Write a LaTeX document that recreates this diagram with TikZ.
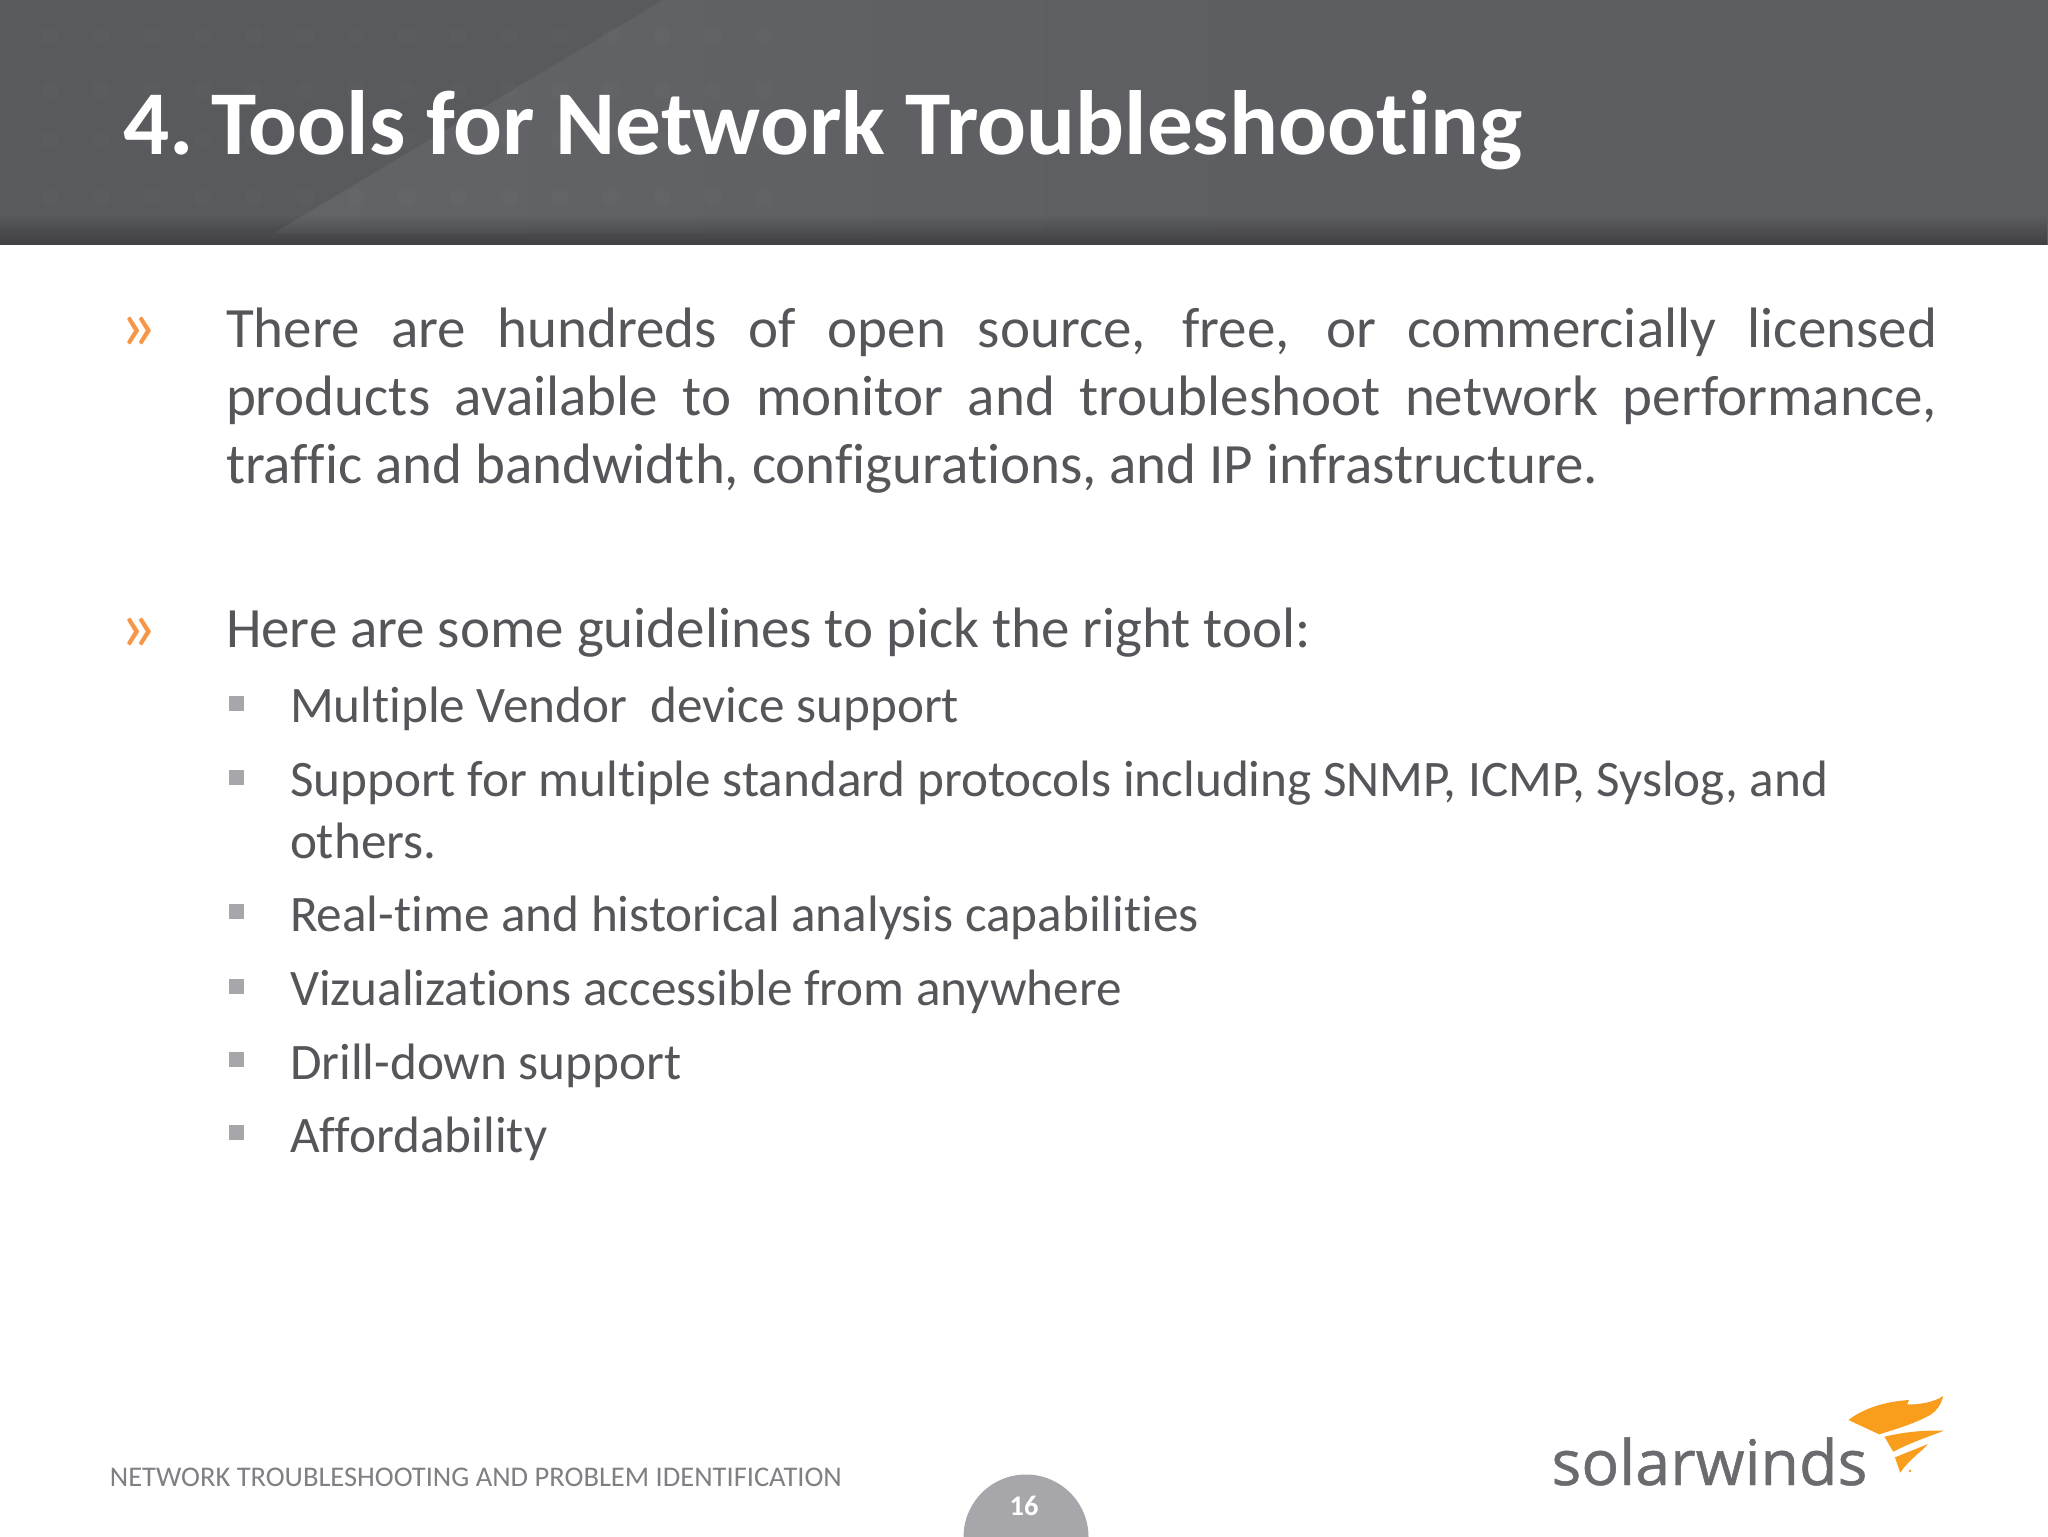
\documentclass[tikz,border=0pt]{standalone}
\usepackage{fontspec}
\setmainfont[Ligatures=NoCommon]{Carlito}
\newfontfamily\logofont[FakeBold=0.7]{Open Sans}
\usetikzlibrary{fadings}
\definecolor{hdr}{HTML}{5D5E62}
\definecolor{hdrdark}{HTML}{595A5D}
\definecolor{hdrlight}{HTML}{636468}
\definecolor{bodytext}{HTML}{55565A}
\definecolor{orangeb}{HTML}{F79646}
\definecolor{greyb}{HTML}{A7A7AB}
\definecolor{foot}{HTML}{7F8084}
\definecolor{flame}{HTML}{F99D1C}
\definecolor{logotext}{HTML}{6A6B6F}
\tikzset{
  x=0.5pt,y=-0.5pt,
  txt/.style={anchor=base west,inner sep=0pt,outer sep=0pt,text=bodytext},
  lvlone/.style={txt,font=\fontsize{28.5pt}{34pt}\selectfont},
  lvltwo/.style={txt,font=\fontsize{25.6pt}{30pt}\selectfont},
  chev/.style={anchor=base west,inner sep=0pt,text=orangeb,font=\fontsize{37pt}{40pt}\selectfont},
  sq/.style={fill=greyb,draw=none,minimum size=7.5pt,inner sep=0pt,outer sep=0pt,anchor=center,shape=rectangle},
  flamepart/.style={fill=flame,draw=none}
}
\begin{document}
\begin{tikzpicture}
\useasboundingbox (0,0) rectangle (2048,1536);
\fill[white] (0,0) rectangle (2048,1536);
% header
\fill[hdr] (0,0) rectangle (2048,245);
\fill[hdrdark] (0,0) -- (663,0) -- (274,233) -- (0,233) -- cycle;
\shade[left color=hdrlight,right color=hdr] (663,0) -- (1300,0) -- (1300,233) -- (274,233) -- cycle;
\foreach \yy in {36,90,140,197}{
  \foreach \xx in {50,101,...,800}{
    \fill[white,opacity=0.015] (\xx,\yy) circle (9);
  }
}
\fill[black,opacity=0.32,path fading=north] (0,215) rectangle (2048,245);
\node[anchor=base west,inner sep=0pt,text=white,font=\fontsize{45.6pt}{54pt}\selectfont\bfseries] (title) at (123,155) {4.\kern-5pt{} Tools for Network Troubleshooting};
% first bullet
\node[chev] (c1) at (119,349) {»};
\node[lvlone] (l1) at (226,347) {\makebox[855.5pt][s]{There are hundreds of open source, free, or commercially licensed}};
\node[lvlone] (l2) at (226,415) {\makebox[855.5pt][s]{products available to monitor and troubleshoot network performance,}};
\node[lvlone] (l3) at (226,483) {traffic and bandwidth, configurations, and IP infrastructure.};
% second bullet
\node[chev] (c2) at (119,650) {»};
\node[lvlone] (l4) at (226,647) {Here are some guidelines to pick the right tool:};
% sub bullets
\node[sq] (s1) at (236.5,703.5) {};
\node[lvltwo] (t1) at (290,722) {Multiple Vendor\ \ device support};
\node[sq] (s2) at (236.5,777.5) {};
\node[lvltwo] (t2) at (290,796) {Support for multiple standard protocols including SNMP, ICMP, Syslog, and};
\node[lvltwo] (t2b) at (290,858) {others.};
\node[sq] (s3) at (236.5,911) {};
\node[lvltwo] (t3) at (290,931) {Real-time and historical analysis capabilities};
\node[sq] (s4) at (236.5,986) {};
\node[lvltwo] (t4) at (290,1005) {Vizualizations accessible from anywhere};
\node[sq] (s5) at (236.5,1059) {};
\node[lvltwo] (t5) at (290,1079) {Drill-down support};
\node[sq] (s6) at (236.5,1132) {};
\node[lvltwo] (t6) at (290,1152) {Affordability};
% footer
\node[anchor=base west,inner sep=0pt,text=foot,font=\fontsize{14.25pt}{17pt}\selectfont] (ft) at (109.5,1486) {NETWORK TROUBLESHOOTING AND PROBLEM IDENTIFICATION};
\begin{scope}
\clip (0,0) rectangle (2048,1536);
\fill[greyb] (1026,1537) circle (62.5);
\end{scope}
\node[anchor=base,inner sep=0pt,text=white,font=\fontsize{14.2pt}{17pt}\selectfont\bfseries] (pg) at (1024,1515) {16};
% logo
\node[anchor=base west,inner sep=0pt,text=logotext,font=\fontsize{31.4pt}{36pt}\logofont\selectfont] (logo) at (1551,1485) {solarwinds};
\begin{scope}[shift={(1500,1370)},xscale=0.3495,yscale=0.3333]
\fill[flamepart] (997,150) .. controls (1040,115) and (1100,95) .. (1170,90) -- (1165,103) .. controls (1200,105) and (1245,95) .. (1268,78) .. controls (1262,105) and (1250,120) .. (1235,132) .. controls (1190,160) and (1130,178) .. (1085,193) -- cycle;
\fill[flamepart] (1100,200) .. controls (1160,185) and (1220,180) .. (1270,182) .. controls (1240,195) and (1180,215) .. (1125,245) -- cycle;
\fill[flamepart] (1130,262) -- (1225,222) .. controls (1200,250) and (1170,270) .. (1145,308) -- cycle;
\fill[flamepart] (1173,303) circle (4);
\end{scope}
\end{tikzpicture}
\end{document}
